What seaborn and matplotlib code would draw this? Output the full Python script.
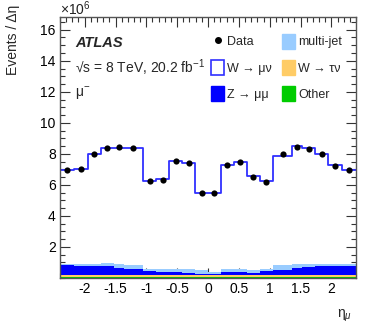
import numpy as np
import pandas as pd
import matplotlib
matplotlib.use("Agg")
import matplotlib.pyplot as plt
from matplotlib.patches import Patch
from matplotlib.lines import Line2D
from matplotlib.ticker import MultipleLocator, FixedLocator, FuncFormatter
import seaborn as sns

# ---------------- data (values in units of 10^6 events / unit eta) ----------------
bin_edges = [-2.4, -2.18, -1.95, -1.74, -1.52, -1.37, -1.05, -0.84, -0.63, -0.42, -0.21, 0.0,
             0.21, 0.42, 0.63, 0.84, 1.05, 1.37, 1.52, 1.74, 1.95, 2.18, 2.4]

data_vals = [6.93, 7.04, 8.00, 8.35, 8.43, 8.37, 6.22, 6.33, 7.57, 7.39, 5.48,
             5.48, 7.26, 7.46, 6.52, 6.20, 7.96, 8.46, 8.30, 8.00, 7.22, 6.93]

w_munu = [6.10, 6.16, 7.12, 7.40, 7.47, 7.51, 5.68, 5.79, 6.94, 6.79, 4.97,
          5.06, 6.68, 6.90, 6.05, 5.64, 7.07, 7.60, 7.43, 7.08, 6.36, 6.08]
multijet = [0.06, 0.08, 0.11, 0.20, 0.30, 0.30, 0.15, 0.19, 0.19, 0.26, 0.21,
            0.12, 0.21, 0.19, 0.20, 0.15, 0.28, 0.28, 0.21, 0.17, 0.13, 0.08]
z_mumu = [0.605, 0.585, 0.555, 0.535, 0.405, 0.345, 0.235, 0.175, 0.195, 0.125, 0.065,
          0.065, 0.175, 0.155, 0.125, 0.215, 0.325, 0.405, 0.495, 0.535, 0.555, 0.585]
w_taunu = [0.15, 0.15, 0.15, 0.15, 0.15, 0.15, 0.15, 0.15, 0.15, 0.15, 0.15,
           0.15, 0.15, 0.15, 0.15, 0.15, 0.15, 0.15, 0.15, 0.15, 0.15, 0.15]
other = [0.065, 0.065, 0.065, 0.065, 0.065, 0.065, 0.065, 0.065, 0.065, 0.065, 0.065,
         0.065, 0.065, 0.065, 0.065, 0.065, 0.065, 0.065, 0.065, 0.065, 0.065, 0.065]

x_ticks = [-2, -1.5, -1, -0.5, 0, 0.5, 1, 1.5, 2]
y_ticks = [2, 4, 6, 8, 10, 12, 14, 16]

# ---------------- style ----------------
sns.set_style("ticks")
plt.rcParams["font.family"] = ["Liberation Sans", "DejaVu Sans"]
plt.rcParams["mathtext.fontset"] = "custom"
plt.rcParams["mathtext.rm"] = "Liberation Sans"
plt.rcParams["mathtext.it"] = "Liberation Sans:italic"
plt.rcParams["mathtext.bf"] = "Liberation Sans:bold"

C_WMU = "#3030ff"
C_MJ = "#99ccff"
C_Z = "#0000ff"
C_TAU = "#ffcc66"
C_OTHER = "#00cc00"

scale = 1e6
edges = np.array(bin_edges)
centers = 0.5 * (edges[:-1] + edges[1:])

# stacked cumulative layers (bottom to top: other, tau, Z, multijet, W->munu)
layers = [("Other", other), ("W → τν", w_taunu), ("Z → μμ", z_mumu),
          ("multi-jet", multijet), ("W → μν", w_munu)]
cum = np.cumsum(np.array([l[1] for l in layers]), axis=0) * scale

fig = plt.figure(figsize=(3.74, 3.31), dpi=100)
ax = fig.add_axes([60 / 374, 1 - 278 / 331, 296 / 374, 261 / 331])

# top: W->munu outline (total)
df_tot = pd.DataFrame({"eta": centers, "w": cum[4]})
sns.histplot(data=df_tot, x="eta", weights="w", bins=list(bin_edges), element="step", fill=False,
             color=C_WMU, linewidth=1.3, ax=ax)
for idx, col in [(3, C_MJ), (2, C_Z), (1, C_TAU), (0, C_OTHER)]:
    d = pd.DataFrame({"eta": centers, "w": cum[idx]})
    sns.histplot(data=d, x="eta", weights="w", bins=list(bin_edges), element="step", fill=True,
                 color=col, alpha=1.0, linewidth=0, ax=ax)

df_data = pd.DataFrame({"eta": centers, "val": np.array(data_vals) * scale})
sns.scatterplot(data=df_data, x="eta", y="val", color="black", s=20, edgecolor="black",
                linewidth=0, zorder=10, ax=ax)

ax.set_xlim(-2.4, 2.4)
ax.set_ylim(0, 16.82 * scale)
ax.xaxis.set_major_locator(FixedLocator(x_ticks))
ax.set_xticklabels([f"{t:g}" for t in x_ticks])
ax.xaxis.set_minor_locator(MultipleLocator(0.1))
ax.yaxis.set_major_locator(FixedLocator([t * scale for t in y_ticks]))
ax.yaxis.set_minor_locator(MultipleLocator(0.5 * scale))
ax.yaxis.set_major_formatter(FuncFormatter(lambda v, p: f"{v / scale:g}"))

ax.tick_params(which="both", direction="in", top=True, right=True, colors="#333333",
               labelcolor="black", labelsize=10)
ax.tick_params(which="major", length=7, width=0.8, pad=3)
ax.tick_params(which="minor", length=3.5, width=0.8)
for s in ax.spines.values():
    s.set_color("#555555")
    s.set_linewidth(1.0)

fig.text(60 / 374, 1 - 15 / 331, "×10$^{6}$", fontsize=10, ha="left", va="baseline",
         color="#222222")

ax.set_xlabel("η$_{μ}$", fontsize=10, loc="right")
ax.xaxis.set_label_coords(0.985, -0.115)
ax.set_ylabel("Events / Δη", fontsize=10, loc="top")
ax.yaxis.set_label_coords(-0.135, 1.048)

ax.text(0.052, 0.90, "ATLAS", transform=ax.transAxes, fontsize=10.5, fontweight="bold",
        fontstyle="italic", va="center", ha="left")
ax.text(0.052, 0.805, "√s = 8 TeV, 20.2 fb$^{-1}$", transform=ax.transAxes, fontsize=10,
        va="center", ha="left")
ax.text(0.052, 0.705, "μ$^{-}$", transform=ax.transAxes, fontsize=10, va="center", ha="left")

handles = [
    Line2D([], [], marker="o", color="black", linestyle="none", markersize=4),
    Patch(facecolor="white", edgecolor=C_WMU, linewidth=1.2),
    Patch(facecolor=C_Z, edgecolor=C_Z),
    Patch(facecolor=C_MJ, edgecolor=C_MJ),
    Patch(facecolor=C_TAU, edgecolor=C_TAU),
    Patch(facecolor=C_OTHER, edgecolor=C_OTHER),
]
labels = ["Data", "W → μν", "Z → μμ", "multi-jet", "W → τν", "Other"]
ax.legend(handles, labels, ncol=2, frameon=False, fontsize=9,
          loc="upper left", bbox_to_anchor=(0.51, 0.936),
          handlelength=1.05, handleheight=1.5, handletextpad=0.25,
          columnspacing=0.8, labelspacing=0.88, borderaxespad=0, borderpad=0)

fig.savefig("out.png", dpi=100)
